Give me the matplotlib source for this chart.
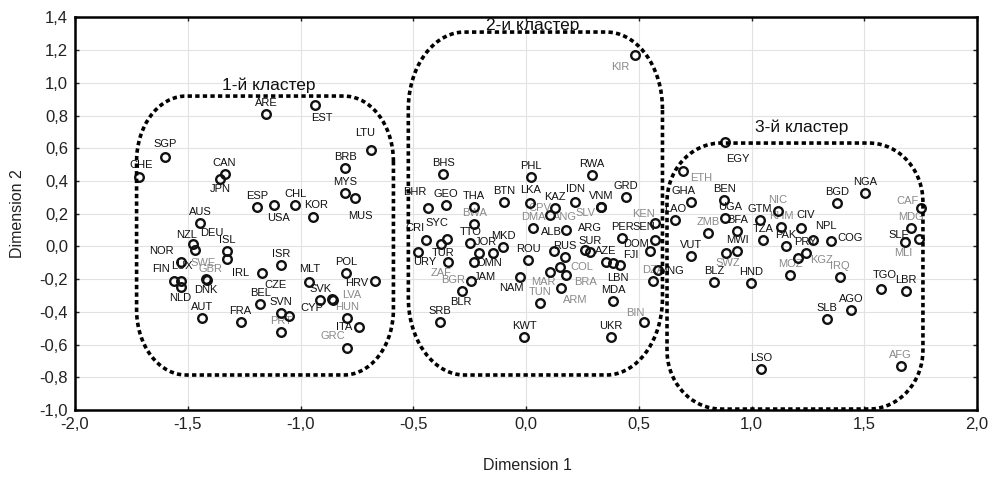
import numpy as np
import matplotlib.pyplot as plt
from matplotlib.ticker import FuncFormatter, MultipleLocator

plt.rcParams['font.family'] = ['Liberation Sans', 'DejaVu Sans']

# --- Country scores on the two dimensions, grouped by cluster ---
codes_c1 = ['CHE', 'SGP', 'ARE', 'EST', 'LTU', 'BRB', 'MYS', 'MUS', 'CAN', 'JPN',
            'ESP', 'USA', 'CHL', 'KOR', 'AUS', 'NZL', 'DEU', 'NOR', 'ISL', 'SWE',
            'FIN', 'LUX', 'GBR', 'NLD', 'DNK', 'IRL', 'ISR', 'CZE', 'BEL', 'SVN',
            'PRT', 'FRA', 'AUT', 'MLT', 'SVK', 'CYP', 'LVA', 'HUN', 'ITA', 'GRC',
            'POL', 'HRV']
dim1_c1 = [-1.718, -1.603, -1.151, -0.934, -0.686, -0.801, -0.801, -0.757, -1.337, -1.355,
           -1.191, -1.116, -1.023, -0.943, -1.444, -1.475, -1.470, -1.532, -1.324, -1.324,
           -1.563, -1.528, -1.417, -1.528, -1.415, -1.173, -1.085, -1.049, -1.178, -1.085,
           -1.085, -1.266, -1.435, -0.961, -0.912, -0.859, -0.855, -0.792, -0.739, -0.792,
           -0.797, -0.668]
dim2_c1 = [0.425, 0.547, 0.809, 0.864, 0.590, 0.480, 0.327, 0.296, 0.443, 0.412,
           0.241, 0.254, 0.254, 0.180, 0.144, 0.015, -0.021, -0.095, -0.027, -0.076,
           -0.211, -0.211, -0.199, -0.247, -0.205, -0.162, -0.113, -0.425, -0.351, -0.406,
           -0.522, -0.461, -0.437, -0.217, -0.327, -0.321, -0.327, -0.437, -0.492, -0.620,
           -0.162, -0.211]

codes_c2 = ['KIR', 'BHS', 'PHL', 'RWA', 'BHR', 'GEO', 'THA', 'BWA', 'BTN', 'LKA',
            'KAZ', 'IDN', 'VNM', 'GRD', 'CPV', 'DMA', 'ANG', 'ALB', 'SLV', 'RUS',
            'ARG', 'SUR', 'PER', 'SEN', 'KEN', 'DOM', 'AZE', 'FJI', 'LBN', 'DZA',
            'MDA', 'UKR', 'KWT', 'BIN', 'COL', 'MAR', 'NAM', 'TUN', 'BRA', 'ARM',
            'ROU', 'MKD', 'TTO', 'JOR', 'BGR', 'ZAF', 'OMN', 'JAM', 'BLR', 'SRB',
            'CRI', 'SYC', 'TUR', 'URY']
dim1_c2 = [0.484, -0.367, 0.023, 0.293, -0.433, -0.354, -0.230, -0.230, -0.097, 0.019,
           0.129, 0.218, 0.333, 0.444, 0.107, 0.032, 0.178, 0.125, 0.331, 0.174,
           0.262, 0.284, 0.426, 0.572, 0.572, 0.550, 0.355, 0.386, 0.417, 0.564,
           0.386, 0.377, -0.008, 0.524, 0.152, 0.107, -0.026, 0.063, 0.178, 0.156,
           0.010, -0.101, -0.247, -0.207, -0.145, -0.478, -0.230, -0.243, -0.283, -0.380,
           -0.442, -0.349, -0.376, -0.345]
dim2_c2 = [1.170, 0.443, 0.425, 0.437, 0.235, 0.254, 0.241, 0.137, 0.272, 0.266,
           0.235, 0.272, 0.241, 0.302, 0.192, 0.113, 0.101, -0.027, 0.239, -0.064,
           -0.021, -0.034, 0.052, 0.040, 0.144, -0.027, -0.095, -0.101, -0.113, -0.211,
           -0.333, -0.553, -0.553, -0.461, -0.125, -0.156, -0.186, -0.345, -0.174, -0.254,
           -0.082, -0.003, 0.021, -0.040, -0.040, -0.034, -0.095, -0.211, -0.272, -0.461,
           0.040, 0.046, 0.015, -0.095]

codes_c3 = ['EGY', 'ETH', 'GHA', 'LAO', 'BEN', 'UGA', 'ZMB', 'BFA', 'GTM', 'NIC',
            'KHM', 'CIV', 'TZA', 'MWI', 'SWZ', 'PAK', 'PRY', 'NPL', 'COG', 'MOZ',
            'KGZ', 'IRQ', 'VUT', 'MNG', 'BLZ', 'HND', 'BGD', 'NGA', 'CAF', 'MDG',
            'SLE', 'MLI', 'TGO', 'LBR', 'AGO', 'SLB', 'LSO', 'AFG']
dim1_c3 = [0.883, 0.697, 0.732, 0.661, 0.878, 0.883, 0.807, 0.936, 1.038, 1.117,
           1.131, 1.219, 1.051, 0.936, 0.887, 1.153, 1.272, 1.241, 1.352, 1.171,
           1.206, 1.392, 0.732, 0.586, 0.834, 0.998, 1.379, 1.503, 1.751, 1.707,
           1.680, 1.742, 1.574, 1.685, 1.441, 1.335, 1.042, 1.662]
dim2_c3 = [0.638, 0.461, 0.272, 0.162, 0.284, 0.174, 0.082, 0.095, 0.162, 0.217,
           0.119, 0.113, 0.040, -0.027, -0.040, 0.003, 0.040, -0.040, 0.034, -0.174,
           -0.070, -0.186, -0.058, -0.144, -0.217, -0.223, 0.266, 0.327, 0.235, 0.113,
           0.027, 0.046, -0.260, -0.272, -0.388, -0.443, -0.748, -0.730]

cluster_titles = ['1-й кластер', '2-и кластер', '3-й кластер']

# label placement (pixels from the marker); anything missing sits just above
label_offset = {
    'CHE': (3, 12), 'SGP': (1, 13), 'EST': (6, -13), 'LTU': (-6, 17), 'MUS': (5, -18),
    'JPN': (0, -10), 'USA': (4, -13), 'KOR': (3, 12), 'NZL': (-7, 9), 'DEU': (17, 17),
    'NOR': (-19, 11), 'SWE': (-24, -4), 'FIN': (-13, 12), 'LUX': (0, 15), 'GBR': (4, 10),
    'NLD': (-1, -11), 'DNK': (-1, -10), 'IRL': (-21, 0), 'CZE': (-14, 31), 'CYP': (-20, -9),
    'LVA': (18, 5), 'ITA': (-15, 0), 'GRC': (-15, 12), 'HRV': (-19, -2), 'MLT': (0, 13),
    'KIR': (-15, -12), 'BHR': (-14, 16), 'CPV': (-10, 7), 'ANG': (-1, 13), 'ALB': (-3, 19),
    'SLV': (-15, -6), 'ARG': (5, 22), 'SEN': (-11, 13), 'KEN': (-12, 9), 'DOM': (-14, 7),
    'FJI': (18, 8), 'LBN': (-2, -13), 'BIN': (-9, 9), 'COL': (21, 0), 'MAR': (-7, -10),
    'NAM': (-9, -11), 'BRA': (19, -7), 'ARM': (14, -12), 'JOR': (7, 11), 'BGR': (-40, -27),
    'ZAF': (23, -21), 'OMN': (15, -1), 'JAM': (14, 4), 'BLR': (-1, -11), 'CRI': (-11, 12),
    'SYC': (-10, 16), 'TUR': (2, -9), 'URY': (-23, 0), 'LKA': (0, 13), 'IDN': (0, 13),
    'EGY': (13, -17), 'ETH': (18, -7), 'GHA': (-8, 11), 'UGA': (5, 11), 'CIV': (5, 13),
    'SWZ': (2, -10), 'PRY': (-7, -2), 'NPL': (20, 27), 'COG': (19, 3), 'KGZ': (23, -2),
    'MNG': (13, -1), 'CAF': (-13, 7), 'SLE': (-6, 7), 'MLI': (-16, -14), 'TGO': (4, 14),
}
muted = {'SWE', 'GBR', 'PRT', 'GRC', 'LVA', 'HUN', 'KIR', 'CPV', 'DMA', 'ANG', 'SLV',
         'KEN', 'BWA', 'ZAF', 'BGR', 'MAR', 'TUN', 'BRA', 'COL', 'DZA', 'ARM', 'BIN',
         'ETH', 'ZMB', 'NIC', 'KHM', 'SWZ', 'MOZ', 'KGZ', 'IRQ', 'CAF', 'MDG', 'MLI',
         'AFG'}


def rounded_box(x0, x1, y0, y1, rx, ry, n=40):
    t = np.linspace(0, np.pi / 2, n)
    xs, ys = [], []
    corners = [(x1 - rx, y1 - ry, 0.0), (x0 + rx, y1 - ry, 0.5 * np.pi),
               (x0 + rx, y0 + ry, np.pi), (x1 - rx, y0 + ry, 1.5 * np.pi)]
    for cx, cy, a0 in corners:
        xs.extend(cx + rx * np.cos(a0 + t))
        ys.extend(cy + ry * np.sin(a0 + t))
    xs.append(xs[0])
    ys.append(ys[0])
    return xs, ys


fig = plt.figure(figsize=(9.96, 4.79), dpi=100)
ax = fig.add_axes([0.0753, 0.1436, 0.9057, 0.8203])

ax.set_xlim(-2.0, 2.0)
ax.set_ylim(-1.0, 1.4)
ax.xaxis.set_major_locator(MultipleLocator(0.5))
ax.yaxis.set_major_locator(MultipleLocator(0.2))
comma = FuncFormatter(lambda v, pos: f"{v:.1f}".replace('.', ','))
ax.xaxis.set_major_formatter(comma)
ax.yaxis.set_major_formatter(comma)
ax.tick_params(direction='in', length=3, width=1, top=True, right=True,
               labelsize=12, pad=5, colors='#222222')
ax.grid(True, color='#e2e2e2', linewidth=0.8)
ax.set_axisbelow(True)
for sp in ax.spines.values():
    sp.set_linewidth(1.8)

clusters = [(codes_c1, dim1_c1, dim2_c1), (codes_c2, dim1_c2, dim2_c2),
            (codes_c3, dim1_c3, dim2_c3)]
for codes, d1, d2 in clusters:
    ax.plot(d1, d2, linestyle='none', marker='o', markersize=6.2,
            markerfacecolor='none', markeredgecolor='#111111',
            markeredgewidth=1.7, zorder=3)
    for code, x, y in zip(codes, d1, d2):
        dx, dy = label_offset.get(code, (0, 11))
        ax.annotate(code, (x, y), xytext=(dx, dy), textcoords='offset pixels',
                    ha='center', va='center', fontsize=8,
                    color='#8a8a8a' if code in muted else '#111111', zorder=2)

# dotted outlines around the three clusters
boxes = [(-1.727, -0.588, -0.785, 0.919, 0.22, 0.40),
         (-0.522, 0.605, -0.785, 1.310, 0.25, 0.47),
         (0.625, 1.760, -0.993, 0.632, 0.24, 0.36)]
for x0, x1, y0, y1, rx, ry in boxes:
    bx, by = rounded_box(x0, x1, y0, y1, rx, ry)
    ax.plot(bx, by, color='black', linewidth=2.6, linestyle=(0, (1.2, 0.9)),
            dash_capstyle='butt', zorder=4, clip_on=False)

title_pos = [(-1.142, 0.983), (0.030, 1.350), (1.221, 0.727)]
for text, (tx, ty) in zip(cluster_titles, title_pos):
    ax.text(tx, ty, text, ha='center', va='center', fontsize=12.5, color='#111111',
            zorder=5)

fig.text(527 / 996, 1 - 466 / 479, 'Dimension 1', ha='center', va='center',
         fontsize=11.5, color='#222222')
fig.text(18 / 996, 1 - 214 / 479, 'Dimension 2', ha='center', va='center',
         rotation=90, fontsize=11.5, color='#222222')

fig.savefig('out.png', dpi=100)
